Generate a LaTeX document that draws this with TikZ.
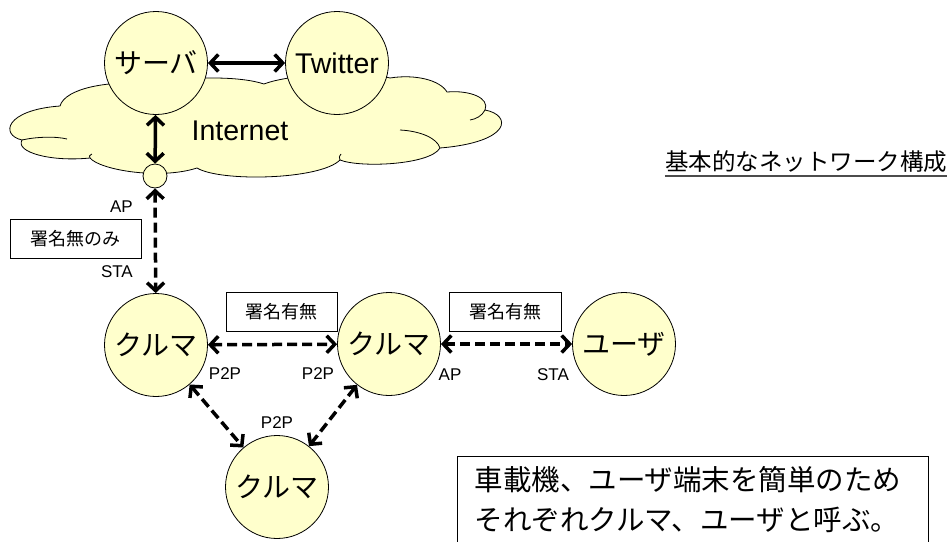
\documentclass[tikz,border=0pt]{standalone}
\usepackage{fontspec}
\setmainfont{Liberation Sans}
\newfontfamily\jp{Noto Sans CJK JP}
\usetikzlibrary{arrows.meta}
\definecolor{cyel}{RGB}{255,255,204}
\tikzset{
  blob/.style={circle, draw, fill=cyel, line width=0.8pt, minimum size=103pt, inner sep=0pt, font=\jp\fontsize{28}{30}\selectfont},
  dot/.style={circle, draw, fill=cyel, line width=0.8pt, minimum size=24pt, inner sep=0pt},
  lbl/.style={inner sep=0pt, font=\fontsize{17}{19}\selectfont},
  sbox/.style={draw, line width=0.8pt, fill=white, minimum height=39pt, inner sep=0pt, font=\jp\fontsize{18}{20}\selectfont},
  solidarr/.style={line width=3.5pt, {Straight Barb[length=8pt,width=17pt]}-{Straight Barb[length=8pt,width=17pt]}},
  dasharr/.style={solidarr, dash pattern=on 10pt off 5pt},
  cloudline/.style={line width=0.8pt},
}
\begin{document}
\begin{tikzpicture}[x=1pt,y=-1pt]
\useasboundingbox[fill=white] (0,0) rectangle (949,541);
% cloud
\draw[cloudline, fill=cyel] (22,140) .. controls (0,135) and (5,110) .. (60,106)
  .. controls (65,88) and (110,80) .. (150,84)
  .. controls (190,76) and (240,76) .. (264,84)
  .. controls (290,74) and (360,70) .. (390,78)
  .. controls (415,74) and (440,80) .. (447,92)
  .. controls (470,90) and (490,98) .. (485,110)
  .. controls (512,115) and (512,142) .. (440,148)
  .. controls (430,165) and (360,168) .. (340,160)
  .. controls (320,180) and (220,182) .. (197,168)
  .. controls (160,180) and (100,170) .. (90,158)
  .. controls (50,162) and (15,152) .. (22,140) -- cycle;
\draw[cloudline] (22,140) .. controls (35,137) and (55,136) .. (67,139);
\draw[cloudline] (440,148) .. controls (437,138) and (420,131) .. (400,130);
\draw[cloudline] (485,110) .. controls (482,116) and (476,119) .. (470,120);
\draw[cloudline] (90,158) .. controls (89,156) .. (92,154);
\draw[cloudline] (340,160) .. controls (339,157) .. (341,154);
\node[inner sep=0pt, font=\fontsize{28.5}{30}\selectfont] (inet) at (240,131) {Internet};
% nodes
\node[blob] (srv) at (156,63) {サーバ};
\node[blob, font=\fontsize{28.5}{30}\selectfont] (tw) at (337,63) {Twitter};
\node[dot] (ap) at (155,176) {};
\node[blob] (k1) at (156,345) {クルマ};
\node[blob] (k2) at (389,344) {クルマ};
\node[blob] (usr) at (624,344) {ユーザ};
\node[blob] (k3) at (277,487) {クルマ};
% connectors
\draw[solidarr] (srv) -- (tw);
\draw[solidarr] (srv) -- (ap);
\draw[dasharr] (ap) -- (k1);
\draw[dasharr] (k1) -- (k2);
\draw[dasharr] (k2) -- (usr);
\draw[dasharr] (k1) -- (k3);
\draw[dasharr] (k2) -- (k3);
% boxes
\node[sbox, minimum width=131pt] (b0) at (75.5,239) {署名無のみ};
\node[sbox, minimum width=111pt] (b1) at (281.5,311.5) {署名有無};
\node[sbox, minimum width=112pt] (b2) at (505,311.5) {署名有無};
% small labels
\node[lbl, anchor=east] (lap) at (133,207) {AP};
\node[lbl, anchor=east] (lsta) at (133,272) {STA};
\node[lbl] (p1) at (225,374) {P2P};
\node[lbl] (p2) at (318,374) {P2P};
\node[lbl] (lap2) at (450,375) {AP};
\node[lbl] (lsta2) at (553,375) {STA};
\node[lbl] (p3) at (277,423) {P2P};
% title
\node[inner sep=0pt, font=\jp\fontsize{23.5}{26}\selectfont] (title) at (806,162) {基本的なネットワーク構成};
\draw[line width=2pt, black!70] ([yshift=-5pt]title.base west) -- ([yshift=-5pt]title.base east);
% note box
\node[inner sep=0pt, align=left, font=\jp\fontsize{28.5}{40}\selectfont] (note) at (688,500) {車載機、ユーザ端末を簡単のため\\それぞれクルマ、ユーザと呼ぶ。};
\coordinate (nbl) at (457,545);
\coordinate (ntr) at (928,456);
\draw[line width=0.8pt] (nbl) |- (ntr) -- (ntr |- nbl);
\end{tikzpicture}
\end{document}
